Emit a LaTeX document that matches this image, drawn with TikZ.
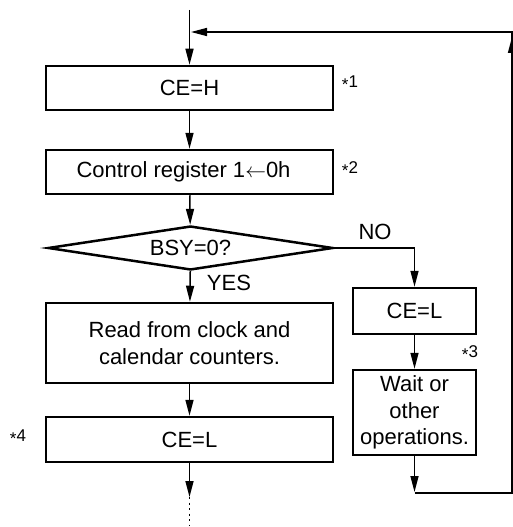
\documentclass[tikz,border=0pt]{standalone}
\usepackage{fontspec}
\setmainfont{Liberation Sans}
\usetikzlibrary{shapes.geometric,arrows.meta}

\newcommand{\stepnote}[1]{\raisebox{-3.5pt}{*}#1}

\begin{document}
\begin{tikzpicture}[x=1pt,y=-1pt,
		box/.style={draw,line width=2.5pt,inner sep=0pt,align=center,font=\fontsize{22}{26.5}\selectfont},
		flow/.style={line width=1.5pt,-{Triangle[length=16pt,width=8pt]}},
		wire/.style={line width=1.5pt},
		note/.style={inner sep=0pt,font=\fontsize{17}{20}\selectfont},
		lbl/.style={inner sep=0pt,font=\fontsize{22}{26}\selectfont}]
	\useasboundingbox (0,0) rectangle (513,527);
	
	\node[box,minimum width=287,minimum height=44] (ceh) at (189.5,88) {CE=H};
	\node[box,minimum width=287,minimum height=44] (ctrl) at (189.5,172) {Control register 1$\leftarrow$0h\hspace*{12pt}};
	\node[box,diamond,aspect=6.5,minimum width=285,minimum height=44] (bsy) at (190.5,248) {BSY=0?};
	\node[box,minimum width=287,minimum height=80] (read) at (189.5,343) {Read from clock and\\calendar counters.};
	\node[box,minimum width=287,minimum height=45] (cel) at (189.5,439.5) {CE=L};
	\node[box,minimum width=123,minimum height=46] (celr) at (414.5,311) {CE=L};
	\node[box,minimum width=123,minimum height=85] (wait) at (414.5,412.5) {Wait or\\other\\operations.};
	
	\node[note] (n1) at (350,83) {\stepnote{1}};
	\node[note] (n2) at (350,169) {\stepnote{2}};
	\node[note] (n3) at (470,353) {\stepnote{3}};
	\node[note] (n4) at (18,437) {\stepnote{4}};
	\node[lbl] (no) at (375,232) {NO};
	\node[lbl] (yes) at (229,283) {YES};
	
	\coordinate (start) at (189.5,10);
	\coordinate (jointip) at (191,32);
	\coordinate (tail) at (189.5,497);
	\coordinate (end) at (189.5,526);
	\coordinate (lowtip) at (414.5,492);
	\coordinate (low) at (414.5,493);
	\coordinate (lowr) at (512,493);
	\coordinate (rtip) at (512,37);
	\coordinate (upr) at (512,32);
	
	\draw[flow] (start) -- (ceh.north);
	\draw[flow] (ceh) -- (ctrl);
	\draw[flow] (ctrl) -- (bsy);
	\draw[flow] (bsy) -- (read);
	\draw[flow] (read) -- (cel);
	\draw[flow] (cel) -- (tail);
	\draw[wire,dash pattern=on 2pt off 3.5pt] (tail) -- (end);
	
	\draw[flow] (bsy.east) -| (celr.north);
	\draw[flow] (celr) -- (wait);
	\draw[flow] (wait) -- (lowtip);
	\draw[wire,-{Triangle[length=16pt,width=8pt]}] (low) -- (lowr) -- (upr) -- (jointip);
	\draw[flow] (lowr) -- (rtip);
\end{tikzpicture}
\end{document}
